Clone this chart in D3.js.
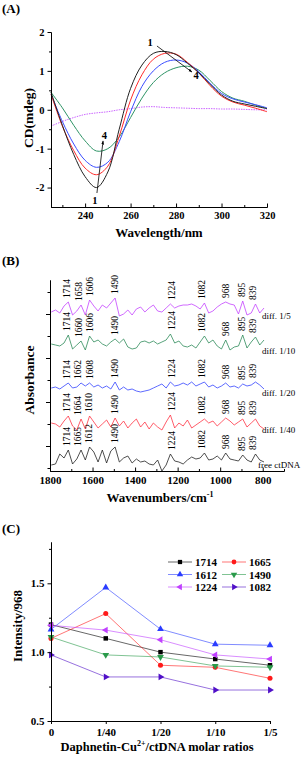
<!DOCTYPE html>
<html>
<head>
<meta charset="utf-8">
<script src="https://cdn.jsdelivr.net/npm/d3@7"></script>
<style>
  body { margin: 0; background: #fff; }
  text { font-family: "Liberation Serif", "Times New Roman", serif; }
</style>
</head>
<body>
<svg id="chart" width="307" height="757"></svg>
<script>
// ---------- (A) CD spectra ----------
const cdWavelength = [225, 230, 235, 240, 245, 250, 255, 260, 265, 270, 275, 280, 285, 290, 295, 300, 305, 310, 315, 320];
const cd1 = [0.45, -0.4, -1.15, -1.72, -2.0, -1.6, -0.5, 0.55, 1.15, 1.45, 1.5, 1.42, 1.2, 0.95, 0.65, 0.38, 0.22, 0.15, 0.09, 0.03];
const cd2 = [0.4, -0.42, -1.05, -1.5, -1.67, -1.45, -0.68, 0.25, 0.9, 1.3, 1.45, 1.43, 1.22, 0.95, 0.62, 0.35, 0.2, 0.12, 0.04, -0.05];
const cd3 = [0.4, -0.3, -0.88, -1.3, -1.48, -1.35, -0.82, -0.05, 0.6, 1.0, 1.22, 1.28, 1.2, 0.98, 0.68, 0.42, 0.28, 0.2, 0.13, 0.05];
const cd4 = [0.45, 0.05, -0.4, -0.8, -1.06, -1.0, -0.7, -0.2, 0.3, 0.7, 0.95, 1.08, 1.12, 1.02, 0.75, 0.47, 0.3, 0.22, 0.12, 0.03];
const cdRef = [-0.42, -0.3, -0.2, -0.12, -0.08, -0.05, 0.0, 0.03, 0.07, 0.08, 0.06, 0.05, 0.04, 0.03, 0.03, 0.02, 0.02, 0.01, 0.0, 0.0];
const cdSeries = [cdRef, cd4, cd3, cd2, cd1];
const cdColors = ["#cc66ff", "#2e9466", "#3a4dff", "#ff2a2a", "#222222"];
const cdLabels = [
  { t: "1", x: 268.6, y: 1.64 }, { t: "4", x: 288.8, y: 0.79 },
  { t: "1", x: 244.3, y: -2.42 }, { t: "4", x: 248.5, y: -0.75 }
];
const cdArrows = [
  { x1: 271.6, y1: 1.64, x2: 287, y2: 0.97 },
  { x1: 245.2, y1: -2.14, x2: 247.9, y2: -0.8 }
];

// ---------- (B) FT-IR difference spectra ----------
const irWavenumber = [1794, 1774, 1754, 1734, 1714, 1694, 1674, 1654, 1634, 1614, 1594, 1574, 1554, 1534, 1514, 1494,
  1474, 1454, 1434, 1414, 1394, 1374, 1354, 1334, 1314, 1294, 1274, 1254, 1234, 1214, 1194, 1174, 1154, 1134, 1114,
  1094, 1074, 1054, 1034, 1014, 994, 974, 954, 934, 914, 894, 874, 854, 834, 814, 794];
const irBaseline = [136, 101, 59, 22, -16];
const irDiff5  = [-2, 0, -3, 4, 8, -5, -1, 5, -5, 10, 4, -1, 5, 2, 7, 12, -6, -4, 0, -5, 1, 3, -2, 2, 5, -1, -2, 2, 6, 2, 4, 5, 5, 6, 4, 1, 7, -3, -1, 3, 6, 8, 6, 5, -4, 9, -5, -3, 6, -3, 2];
const irDiff10 = [1, 0, -1, 2, 10, -4, 0, 4, -5, 9, 3, 5, 1, -1, 3, 6, 2, 6, -2, -4, -3, 3, 4, 2, 4, 1, 3, 5, 11, 2, 4, -1, -2, 0, -3, 3, 9, 2, 5, -1, -4, 5, -5, -2, -1, 10, -3, 3, 8, 0, 5];
const irDiff20 = [-1, 0, -2, 1, 4, -1, 0, 4, 1, 4, 0, 2, -1, 1, -2, 5, -3, 0, -3, -2, -4, -5, -4, -3, -1, 1, 3, -1, 5, 1, 2, 4, 2, 5, 1, 3, 5, 0, 2, -1, 1, 4, 0, 1, -1, 3, 1, 2, 5, 2, -2];
const irDiff40 = [1, 0, -3, 3, 8, -2, -6, 5, -5, 8, 2, -4, 0, 4, -3, 6, -2, 3, -4, 1, 5, -3, 2, -5, 1, -3, -6, 2, 9, -4, 1, -2, 4, -4, -1, 2, 5, 1, 3, -2, 2, 6, 3, -1, 2, 5, -3, 1, 5, -2, -5];
const irFree   = [-3, -2, 8, 4, 12, -2, 3, 12, 2, 15, 10, 0, 12, -1, 11, 15, 0, 4, 6, -1, 3, 0, 1, -2, -3, 2, -9, -3, 8, 1, 0, -2, 2, 5, 3, 4, 9, 2, 3, 6, 2, 9, 3, 2, 1, 7, 2, 0, 8, 2, 0];
const irSpectra = [irDiff5, irDiff10, irDiff20, irDiff40, irFree];
const irColors = ["#c444ff", "#2e8b5a", "#3344ff", "#ff3344", "#222222"];
const irNames = ["diff. 1/5", "diff. 1/10", "diff. 1/20", "diff. 1/40", "free ctDNA"];
const irPeaks = [
  [1714, 1658, 1606, 1490, 1224, 1082, 968, 895, 839],
  [1714, 1660, 1606, 1490, 1224, 1082, 968, 895, 839],
  [1714, 1662, 1608, 1490, 1224, 1082, 968, 895, 839],
  [1714, 1664, 1610, 1490, 1224, 1082, 968, 895, 839],
  [1714, 1665, 1612, 1490, 1224, 1082, 968, 895, 839]
];
const irTicks = [1800, 1600, 1400, 1200, 1000, 800];

// ---------- (C) intensity ratios ----------
const ratios = ["0", "1/40", "1/20", "1/10", "1/5"];
const bandNames = ["1714", "1665", "1612", "1490", "1224", "1082"];
const band1714 = [1.2, 1.1, 1.0, 0.95, 0.905];
const band1665 = [1.1, 1.28, 0.905, 0.89, 0.81];
const band1612 = [1.165, 1.47, 1.167, 1.058, 1.05];
const band1490 = [1.11, 0.98, 0.965, 0.9, 0.89];
const band1224 = [1.195, 1.16, 1.09, 0.98, 0.95];
const band1082 = [0.98, 0.82, 0.82, 0.725, 0.725];
const bandValues = [band1714, band1665, band1612, band1490, band1224, band1082];
const bandColors = ["#000000", "#ff1a1a", "#2a3cff", "#2a9a4a", "#c040ff", "#5010c8"];
const bandSymbols = ["square", "circle", "up", "down", "left", "right"];

const svg = d3.select("#chart");

function styleAxis(g, size) {
  g.selectAll("path, line").attr("stroke", "#000").attr("stroke-width", 1);
  g.selectAll("text").attr("font-family", '"Liberation Serif", serif')
    .attr("font-size", size).attr("font-weight", "bold").attr("fill", "#000");
  g.attr("font-family", null);
}

function panelTitle(txt, y) {
  svg.append("text").attr("x", 2).attr("y", y).attr("font-size", 13)
    .attr("font-weight", "bold").text(txt);
}

svg.append("defs").append("marker")
  .attr("id", "arrow").attr("viewBox", "0 0 10 10").attr("refX", 9).attr("refY", 5)
  .attr("markerWidth", 5).attr("markerHeight", 5).attr("orient", "auto")
  .append("path").attr("d", "M0,1.5L10,5L0,8.5Z").attr("fill", "#000");

// ===== Panel A =====
panelTitle("(A)", 13);
const xA = d3.scaleLinear().domain([225, 320]).range([51, 267]);
const yA = d3.scaleLinear().domain([-2.5, 2]).range([207, 32]);

const lineA = d3.line()
  .x((d, i) => xA(cdWavelength[i]))
  .y(d => yA(d))
  .curve(d3.curveCatmullRom.alpha(0.5));

cdSeries.forEach((s, k) => {
  svg.append("path").datum(s).attr("d", lineA)
    .attr("fill", "none").attr("stroke", cdColors[k]).attr("stroke-width", 1)
    .attr("stroke-dasharray", k === 0 ? "1.5,1" : null);
});

svg.append("g").attr("transform", "translate(0,207)")
  .call(d3.axisBottom(xA).tickValues([230, 250, 270, 290, 310]).tickFormat("").tickSizeInner(-2).tickSizeOuter(0))
  .call(g => styleAxis(g, 10.5));
svg.append("g").attr("transform", "translate(0,207)")
  .call(d3.axisBottom(xA).tickValues([240, 260, 280, 300, 320]).tickSizeInner(-3.5).tickSizeOuter(0).tickPadding(5))
  .call(g => styleAxis(g, 10.5));
svg.append("g").attr("transform", "translate(51,0)")
  .call(d3.axisLeft(yA).tickValues([-1.5, -0.5, 0.5, 1.5]).tickFormat("").tickSizeInner(2).tickSizeOuter(0))
  .call(g => styleAxis(g, 10.5));
svg.append("g").attr("transform", "translate(51,0)")
  .call(d3.axisLeft(yA).tickValues([-2, -1, 0, 1, 2]).tickFormat(d => String(d)).tickSizeInner(3.5).tickSizeOuter(0).tickPadding(3))
  .call(g => styleAxis(g, 10.5));

cdArrows.forEach(a => {
  svg.append("line").attr("x1", xA(a.x1)).attr("y1", yA(a.y1))
    .attr("x2", xA(a.x2)).attr("y2", yA(a.y2))
    .attr("stroke", "#000").attr("stroke-width", 0.8).attr("marker-end", "url(#arrow)");
});
cdLabels.forEach(l => {
  svg.append("text").attr("x", xA(l.x)).attr("y", yA(l.y)).attr("text-anchor", "middle")
    .attr("font-size", 10.5).attr("font-weight", "bold").text(l.t);
});

svg.append("text").attr("x", 159).attr("y", 237).attr("text-anchor", "middle")
  .attr("font-size", 13).attr("font-weight", "bold").text("Wavelength/nm");
svg.append("text").attr("transform", "translate(33,118) rotate(-90)").attr("text-anchor", "middle")
  .attr("font-size", 13.5).attr("font-weight", "bold").text("CD(mdeg)");

// ===== Panel B =====
panelTitle("(B)", 265);
const xB = d3.scaleLinear().domain([1800, 700]).range([50, 284]);
const yB = d3.scaleLinear().domain([-25, 166]).range([471, 280]);

irSpectra.forEach((s, k) => {
  const line = d3.line().x((d, i) => xB(irWavenumber[i])).y(d => yB(irBaseline[k] + d));
  svg.append("path").datum(s).attr("d", line)
    .attr("fill", "none").attr("stroke", irColors[k]).attr("stroke-width", 0.8);

  irPeaks[k].forEach(p => {
    // label sits just above the nearest sampled points
    const idx = d3.leastIndex(irWavenumber, w => Math.abs(w - p));
    const yy = yB(irBaseline[k] + Math.max(s[idx], s[Math.max(idx - 1, 0)], s[Math.min(idx + 1, s.length - 1)])) - 4;
    svg.append("text").attr("transform", `translate(${xB(p) + 2},${yy}) rotate(-90)`)
      .attr("font-size", 9.5).text(p);
  });

  svg.append("text").attr("x", k === 4 ? 258 : 262).attr("y", yB(irBaseline[k]) + (k === 4 ? 6 : 9))
    .attr("font-size", 9).text(irNames[k]);
});

svg.append("g").attr("transform", "translate(0,471)")
  .call(d3.axisBottom(xB).tickValues([1700, 1500, 1300, 1100, 900, 700]).tickFormat("").tickSizeInner(-2).tickSizeOuter(0))
  .call(g => styleAxis(g, 11));
svg.append("g").attr("transform", "translate(0,471)")
  .call(d3.axisBottom(xB).tickValues(irTicks).tickFormat(d => String(d)).tickSizeInner(-3.5).tickSizeOuter(0).tickPadding(5))
  .call(g => styleAxis(g, 11));
svg.append("g").attr("transform", "translate(50,0)")
  .call(d3.axisLeft(yB).tickValues([-22, 22, 66, 110, 154]).tickFormat("").tickSizeInner(2.5).tickSizeOuter(0))
  .call(g => styleAxis(g, 11));
svg.append("g").attr("transform", "translate(50,0)")
  .call(d3.axisLeft(yB).tickValues([0, 44, 88, 132]).tickFormat("").tickSizeInner(4).tickSizeOuter(0))
  .call(g => styleAxis(g, 11));

const xt = svg.append("text").attr("x", 160).attr("y", 502).attr("text-anchor", "middle")
  .attr("font-size", 13).attr("font-weight", "bold");
xt.append("tspan").text("Wavenumbers/cm");
xt.append("tspan").attr("dy", -5).attr("font-size", 8).text("-1");
svg.append("text").attr("transform", "translate(34,380) rotate(-90)").attr("text-anchor", "middle")
  .attr("font-size", 13.5).attr("font-weight", "bold").text("Absorbance");

// ===== Panel C =====
panelTitle("(C)", 533);
const xC = d3.scalePoint().domain(ratios).range([51, 270]);
const yC = d3.scaleLinear().domain([0.5, 1.8]).range([721, 542]);

function symbolPath(kind, size) {
  if (kind === "square") return d3.symbol().type(d3.symbolSquare).size(size)();
  if (kind === "circle") return d3.symbol().type(d3.symbolCircle).size(size)();
  return d3.symbol().type(d3.symbolTriangle).size(size)();
}
const rot = { up: 0, down: 180, left: -90, right: 90, square: 0, circle: 0 };

const lineC = d3.line().x((d, i) => xC(ratios[i])).y(d => yC(d));
bandValues.forEach((vals, k) => {
  svg.append("path").datum(vals).attr("d", lineC)
    .attr("fill", "none").attr("stroke", bandColors[k]).attr("stroke-width", 0.8).attr("stroke-opacity", 0.75);
});
bandValues.forEach((vals, k) => {
  svg.selectAll(null).data(vals).enter().append("path")
    .attr("d", symbolPath(bandSymbols[k], 20))
    .attr("transform", (d, i) => `translate(${xC(ratios[i])},${yC(d)}) rotate(${rot[bandSymbols[k]]})`)
    .attr("fill", bandColors[k]);
});

svg.append("g").attr("transform", "translate(0,721)")
  .call(d3.axisBottom(xC).tickSizeInner(3).tickSizeOuter(0).tickPadding(4))
  .call(g => styleAxis(g, 11));
svg.append("g").attr("transform", "translate(51,0)")
  .call(d3.axisLeft(yC).tickValues([0.75, 1.25, 1.75]).tickFormat("").tickSizeInner(2).tickSizeOuter(0))
  .call(g => styleAxis(g, 11));
svg.append("g").attr("transform", "translate(51,0)")
  .call(d3.axisLeft(yC).tickValues([0.5, 1.0, 1.5]).tickFormat(d3.format(".1f")).tickSizeInner(3.5).tickSizeOuter(0).tickPadding(3))
  .call(g => styleAxis(g, 11));

// legend
bandNames.forEach((name, k) => {
  const col = k % 2, row = Math.floor(k / 2);
  const x0 = col === 0 ? 168 : 222, yy = 562 + row * 12.5;
  svg.append("line").attr("x1", x0).attr("x2", x0 + 24).attr("y1", yy).attr("y2", yy)
    .attr("stroke", bandColors[k]).attr("stroke-width", 0.8).attr("stroke-opacity", 0.75);
  svg.append("path").attr("d", symbolPath(bandSymbols[k], 18))
    .attr("transform", `translate(${x0 + 12},${yy}) rotate(${rot[bandSymbols[k]]})`)
    .attr("fill", bandColors[k]);
  svg.append("text").attr("x", x0 + 27).attr("y", yy + 4).attr("font-size", 11)
    .attr("font-weight", "bold").text(name);
});

const ct = svg.append("text").attr("x", 157).attr("y", 751).attr("text-anchor", "middle")
  .attr("font-size", 12.5).attr("font-weight", "bold");
ct.append("tspan").text("Daphnetin-Cu");
ct.append("tspan").attr("dy", -5).attr("font-size", 8).text("2+");
ct.append("tspan").attr("dy", 5).text("/ctDNA molar ratios");
svg.append("text").attr("transform", "translate(22,626) rotate(-90)").attr("text-anchor", "middle")
  .attr("font-size", 13).attr("font-weight", "bold").text("Intensity/968");
</script>
</body>
</html>
